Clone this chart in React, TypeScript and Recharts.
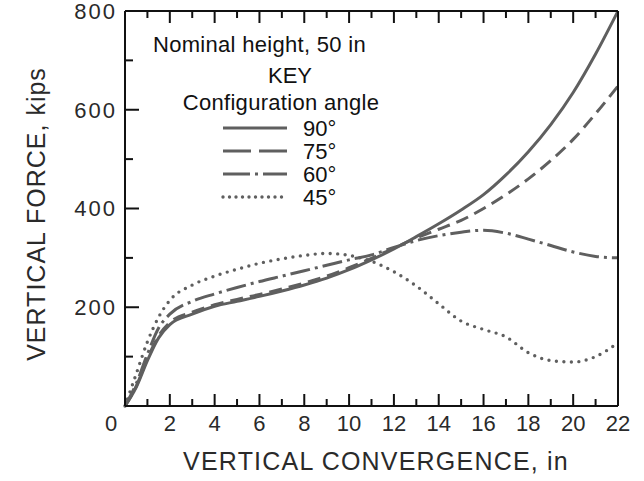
import React from 'react';
import { LineChart, Line, XAxis, YAxis } from 'recharts';

// Vertical convergence, in
const convergence = [0, 0.5, 1, 1.5, 2, 3, 4, 5, 6, 7, 8, 9, 10, 11, 12, 13, 14, 15, 16, 17, 18, 19, 20, 21, 22];
// Vertical force, kips, per configuration angle
const force90 = [0, 38, 92, 138, 165, 186, 202, 212, 222, 233, 245, 259, 276, 296, 318, 343, 369, 397, 428, 468, 515, 570, 635, 713, 800];
const force75 = [0, 40, 96, 142, 169, 190, 205, 216, 226, 237, 249, 263, 280, 299, 320, 340, 358, 376, 400, 428, 460, 497, 540, 592, 648];
const force60 = [0, 45, 105, 158, 186, 212, 227, 240, 252, 263, 274, 285, 296, 306, 321, 335, 345, 352, 356, 350, 338, 325, 312, 303, 300];
const force45 = [0, 65, 130, 180, 214, 245, 263, 277, 289, 298, 305, 309, 305, 293, 272, 243, 207, 172, 155, 140, 108, 92, 89, 100, 128];

const xTicks = [0, 1, 2, 3, 4, 5, 6, 7, 8, 9, 10, 11, 12, 13, 14, 15, 16, 17, 18, 19, 20, 21, 22];
const xLabelTicks = [0, 2, 4, 6, 8, 10, 12, 14, 16, 18, 20, 22];
const yTicks = [0, 100, 200, 300, 400, 500, 600, 700, 800];
const yLabelTicks = [200, 400, 600, 800];

const series = [
  { key: 'f90', name: '90°', values: force90, dash: undefined as string | undefined, legendDash: undefined as string | undefined, width: 3, cap: 'butt' },
  { key: 'f75', name: '75°', values: force75, dash: '13 7', legendDash: '28 8', width: 3, cap: 'butt' },
  { key: 'f60', name: '60°', values: force60, dash: '20 5 3 5', legendDash: '27 5 3 5', width: 3, cap: 'butt' },
  { key: 'f45', name: '45°', values: force45, dash: '0 7.5', legendDash: '0 6.5', width: 3.4, cap: 'round' },
];

const data = convergence.map((x, i) => {
  const row: Record<string, number> = { x };
  series.forEach((s) => {
    row[s.key] = s.values[i];
  });
  return row;
});

const FONT = '"Liberation Sans", Arial, Helvetica, sans-serif';
const CURVE = '#5f5f5f';
const INK = '#111111';
const TEXT = '#2a2a2a';

const BottomTick = (props: any) => {
  const { x, y, payload } = props;
  const v = payload.value;
  const len = v % 2 === 0 ? 12 : 7;
  return (
    <g>
      <line x1={x} y1={y} x2={x} y2={y - len} stroke={INK} strokeWidth={2} />
      {xLabelTicks.includes(v) ? (
        <text x={v === 0 ? x - 14 : x} y={y + 25} textAnchor="middle" fontSize={22} fill={TEXT} fontFamily={FONT}>
          {v}
        </text>
      ) : null}
    </g>
  );
};

const TopTick = (props: any) => {
  const { x, y, payload } = props;
  const len = payload.value % 2 === 0 ? 12 : 7;
  return (
    <g>
      <line x1={x} y1={y} x2={x} y2={y + len} stroke={INK} strokeWidth={2} />
    </g>
  );
};

const LeftTick = (props: any) => {
  const { x, y, payload } = props;
  const v = payload.value;
  const len = v % 200 === 0 ? 14 : 8;
  return (
    <g>
      <line x1={x} y1={y} x2={x + len} y2={y} stroke={INK} strokeWidth={2} />
      {yLabelTicks.includes(v) ? (
        <text x={x - 8} y={y} dy="0.36em" textAnchor="end" fontSize={22} letterSpacing={2} fill={TEXT} fontFamily={FONT}>
          {v}
        </text>
      ) : null}
    </g>
  );
};

const RightTick = (props: any) => {
  const { x, y, payload } = props;
  const len = payload.value % 200 === 0 ? 14 : 7;
  return (
    <g>
      <line x1={x} y1={y} x2={x - len} y2={y} stroke={INK} strokeWidth={2} />
    </g>
  );
};

export default function App() {
  return (
    <div style={{ position: 'absolute', left: 0, top: 0, width: 644, height: 481, background: '#fff' }}>
      <LineChart width={644} height={481} data={data} margin={{ top: 0, right: 0, bottom: 0, left: 0 }}>
        <XAxis
          xAxisId="b"
          dataKey="x"
          type="number"
          domain={[0, 22]}
          ticks={xTicks}
          interval={0}
          tickSize={0}
          tickMargin={0}
          tickLine={false}
          height={75}
          axisLine={{ stroke: INK, strokeWidth: 2 }}
          tick={BottomTick}
        />
        <XAxis
          xAxisId="t"
          orientation="top"
          dataKey="x"
          type="number"
          domain={[0, 22]}
          ticks={xTicks}
          interval={0}
          tickSize={0}
          tickMargin={0}
          tickLine={false}
          height={11}
          axisLine={{ stroke: INK, strokeWidth: 2 }}
          tick={TopTick}
        />
        <YAxis
          yAxisId="l"
          type="number"
          domain={[0, 800]}
          ticks={yTicks}
          interval={0}
          tickSize={0}
          tickMargin={0}
          tickLine={false}
          width={125}
          axisLine={{ stroke: INK, strokeWidth: 2 }}
          tick={LeftTick}
        />
        <YAxis
          yAxisId="r"
          orientation="right"
          type="number"
          domain={[0, 800]}
          ticks={yTicks}
          interval={0}
          tickSize={0}
          tickMargin={0}
          tickLine={false}
          width={26}
          axisLine={{ stroke: INK, strokeWidth: 2 }}
          tick={RightTick}
        />
        {series.map((s) => (
          <Line
            key={s.key}
            xAxisId="b"
            yAxisId="l"
            dataKey={s.key}
            name={s.name}
            type="monotone"
            stroke={CURVE}
            strokeWidth={s.width}
            strokeDasharray={s.dash}
            strokeLinecap={s.cap as any}
            dot={false}
            activeDot={false}
            isAnimationActive={false}
          />
        ))}
        <g fontFamily={FONT} fill={TEXT}>
          <text x={376} y={470} textAnchor="middle" fontSize={25} letterSpacing={1.2}>
            VERTICAL CONVERGENCE, in
          </text>
          <text x={36} y={214} transform="rotate(-90 36 214)" dy="0.36em" textAnchor="middle" fontSize={25} letterSpacing={1}>
            VERTICAL FORCE, kips
          </text>
        </g>
        <g fontFamily={FONT} fill={INK} fontSize={22}>
          <text x={153} y={52} letterSpacing={0.3}>Nominal height, 50 in</text>
          <text x={290} y={83} textAnchor="middle">KEY</text>
          <text x={281} y={110} textAnchor="middle" letterSpacing={0.3}>Configuration angle</text>
          {series.map((s, i) => {
            const y = 128 + i * 23;
            return (
              <g key={s.key}>
                <line x1={223} x2={287} y1={y} y2={y} stroke={CURVE} strokeWidth={s.width} strokeDasharray={s.legendDash} strokeLinecap={s.cap as any} />
                <text x={303} y={y + 8}>{s.name}</text>
              </g>
            );
          })}
        </g>
      </LineChart>
    </div>
  );
}
